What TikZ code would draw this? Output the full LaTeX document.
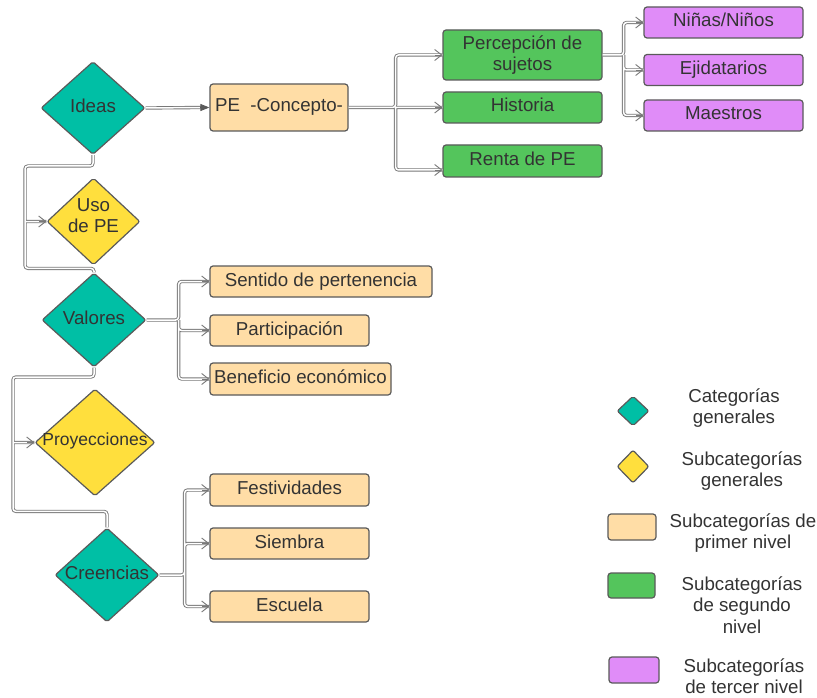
\documentclass[tikz,border=0pt]{standalone}
\usepackage{fontspec}
\setmainfont{Liberation Sans}
\usetikzlibrary{shapes.geometric,arrows.meta,calc}
\definecolor{cteal}{RGB}{0,191,165}
\definecolor{cyel}{RGB}{255,223,61}
\definecolor{corg}{RGB}{255,221,166}
\definecolor{cgrn}{RGB}{84,197,92}
\definecolor{cpur}{RGB}{224,140,248}
\definecolor{cbrd}{RGB}{90,90,90}
\definecolor{ctxt}{RGB}{51,51,51}
\definecolor{cline}{RGB}{120,120,120}
\begin{document}
\begin{tikzpicture}[x=1pt,y=-1pt,
  txt/.style={font=\fontsize{18.7}{21.5}\selectfont, text=ctxt},
  boxbase/.style={txt, draw=cbrd, line width=1.2pt, rounded corners=3pt, inner sep=0pt, align=center},
  box/.style={boxbase, text height=13.5pt, text depth=4.5pt},
  dmd/.style={diamond, draw=cbrd, line width=1.2pt, rounded corners=2pt, inner sep=0pt},
  dlab/.style={txt, align=center, inner sep=0pt},
  conn/.style={draw=cline, double=white, line width=0.9pt, double distance=1.5pt, rounded corners=3pt},
  tipb/.style={draw=cline, line width=0.9pt, -{Straight Barb[length=7pt,width=11pt]}},
  tipt/.style={draw=cbrd, line width=0.9pt, -{Triangle[length=9pt,width=7pt,fill=cbrd]}},
]
\fill[white] (0,0) rectangle (817,698);
\useasboundingbox (0,0) rectangle (817,698);

% diamonds
\node[dmd, fill=cteal, minimum width=104pt, minimum height=93pt,
  label={[dlab,yshift=2.5pt]center:Ideas}] (ideas) at (93,108) {};
\node[dmd, fill=cyel, minimum width=93pt, minimum height=87pt,
  label={[dlab,yshift=6pt]center:{Uso\\de PE}}] (uso) at (93.5,221.5) {};
\node[dmd, fill=cteal, minimum width=104pt, minimum height=94pt,
  label={[dlab,yshift=2pt]center:Valores}] (valores) at (94,320) {};
\node[dmd, fill=cyel, minimum width=120pt, minimum height=107pt,
  label={[dlab,font=\fontsize{17.5}{21}\selectfont,yshift=1.5pt]center:Proyecciones}] (proy) at (95,442.5) {};
\node[dmd, fill=cteal, minimum width=104pt, minimum height=94pt,
  label={[dlab,yshift=2pt]center:Creencias}] (cre) at (107,575) {};

% first level boxes
\node[box, fill=corg, minimum width=138pt, minimum height=47pt] (pe) at (279,107.5) {PE\ \ -Concepto-};
\node[box, fill=corg, minimum width=222pt, minimum height=31pt] (sen) at (321,281.5) {Sentido de pertenencia};
\node[box, fill=corg, minimum width=159pt, minimum height=31pt] (par) at (289.5,330.5) {Participación};
\node[box, fill=corg, minimum width=181pt, minimum height=32pt] (ben) at (300.5,379) {Beneficio económico};
\node[box, fill=corg, minimum width=159pt, minimum height=32pt] (fest) at (289.5,490) {Festividades};
\node[box, fill=corg, minimum width=159pt, minimum height=31pt] (siem) at (289.5,543.5) {Siembra};
\node[box, fill=corg, minimum width=159pt, minimum height=31pt] (esc) at (289.5,606.5) {Escuela};

% second level
\node[boxbase, fill=cgrn, minimum width=159pt, minimum height=50pt] (perc) at (522.5,55) {Percepción de\\sujetos};
\node[box, fill=cgrn, minimum width=159pt, minimum height=31pt] (hist) at (522.5,107.5) {Historia};
\node[box, fill=cgrn, minimum width=159pt, minimum height=32pt] (renta) at (522.5,161) {Renta de PE};

% third level
\node[box, fill=cpur, minimum width=159pt, minimum height=31pt] (nin) at (723.5,22.5) {Niñas/Niños};
\node[box, fill=cpur, minimum width=159pt, minimum height=31pt] (eji) at (723.5,70) {Ejidatarios};
\node[box, fill=cpur, minimum width=159pt, minimum height=31pt] (mae) at (723.5,115.5) {Maestros};

% connectors
\draw[conn] (ideas.east) -- ([xshift=-8pt]pe.west);
\draw[tipt] ([xshift=-9pt]pe.west) -- (pe.west);

\coordinate (j1) at ($(pe.east)+(47,0)$);
\draw[conn] (pe.east) -- (j1) |- (perc.west)
  (j1) -- (hist.west)
  (j1) |- ([yshift=-9pt]renta.west);

\coordinate (j2) at ($(perc.east)+(21,0)$);
\draw[conn] (perc.east) -- (j2) |- (nin.west)
  (j2) |- (eji.west)
  (j2) |- (mae.west);

\draw[conn] (ideas.south) |- (25,166) |- ([yshift=4pt]valores.north) -- (valores.north)
  (25,221.5) -- (uso.west);

\draw[conn] (valores.south) |- (13,377) |- ($(cre.north)+(0,-16)$) -- (cre.north)
  (13,442.5) -- (proy.west);

\coordinate (j3) at ($(valores.east)+(32,0)$);
\draw[conn] (valores.east) -- (j3) |- (sen.west)
  (j3) |- (par.west)
  (j3) |- (ben.west);

\coordinate (j4) at ($(cre.east)+(25,0)$);
\draw[conn] (cre.east) -- (j4) |- (fest.west)
  (j4) |- (siem.west)
  (j4) |- (esc.west);

\foreach \t in {perc,hist,nin,eji,mae,sen,par,ben,fest,siem,esc,uso,proy}
  \draw[tipb] ([xshift=-7pt]\t.west) -- (\t.west);
\draw[tipb] ([xshift=-7pt,yshift=-9pt]renta.west) -- ([yshift=-9pt]renta.west);

% legend
\node[dmd, fill=cteal, minimum width=32pt, minimum height=30pt] (lg1) at (633,411) {};
\node[dmd, fill=cyel, minimum width=32pt, minimum height=33pt] (lg2) at (633,466.5) {};
\node[boxbase, fill=corg, minimum width=48pt, minimum height=26pt] (lg3) at (632,527) {};
\node[boxbase, fill=cgrn, minimum width=47pt, minimum height=25pt] (lg4) at (631.5,585.5) {};
\node[boxbase, fill=cpur, minimum width=50pt, minimum height=26pt] (lg5) at (634,670) {};

\node[dlab] (lt1) at (734,408) {Categorías\\generales};
\node[dlab] (lt2) at (742,471) {Subcategorías\\generales};
\node[dlab] (lt3) at (743,533) {Subcategorías de\\primer nivel};
\node[dlab] (lt4) at (742,605) {Subcategorías\\de segundo\\nivel};
\node[dlab] (lt5) at (744,676) {Subcategorías\\de tercer nivel};
\end{tikzpicture}
\end{document}
